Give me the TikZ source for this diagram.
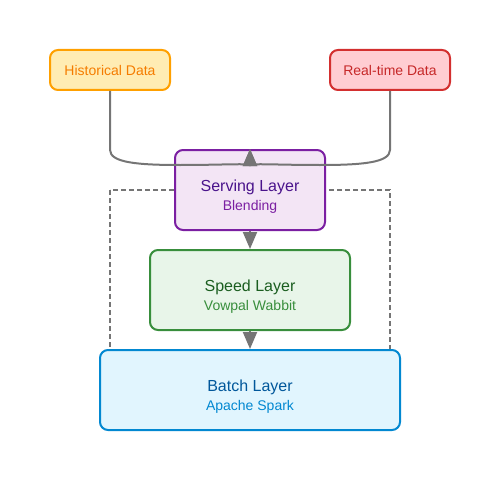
\documentclass[tikz,border=0pt]{standalone}
\usepackage{fontspec}
\setmainfont{Liberation Sans}
\usepackage{tikz}
\usetikzlibrary{arrows.meta,positioning}
\pgfdeclarelayer{background}
\pgfsetlayers{background,main}

\definecolor{histfill}{HTML}{FFECB3}
\definecolor{histdraw}{HTML}{FFA000}
\definecolor{histtext}{HTML}{F57C00}
\definecolor{realfill}{HTML}{FFCDD2}
\definecolor{realdraw}{HTML}{D32F2F}
\definecolor{realtext}{HTML}{C62828}
\definecolor{servefill}{HTML}{F3E5F5}
\definecolor{servedraw}{HTML}{7B1FA2}
\definecolor{servetitle}{HTML}{4A148C}
\definecolor{speedfill}{HTML}{E8F5E9}
\definecolor{speeddraw}{HTML}{388E3C}
\definecolor{speedtitle}{HTML}{1B5E20}
\definecolor{batchfill}{HTML}{E1F5FE}
\definecolor{batchdraw}{HTML}{0288D1}
\definecolor{batchtitle}{HTML}{01579B}
\definecolor{flowgray}{HTML}{757575}

\begin{document}
\begin{tikzpicture}[
            x=1pt, y=-1pt,
            every node/.style={on grid},
            box/.style={draw,rounded corners=8pt,line width=2pt,inner sep=0pt},
            source/.style={box,minimum width=120pt,minimum height=40pt,font=\fontsize{14}{16}\selectfont},
            layer/.style={box,minimum height=80pt},
            title/.style={anchor=base,font=\fontsize{16}{19}\selectfont},
            sub/.style={anchor=base,font=\fontsize{14}{17}\selectfont},
            flow/.style={draw=flowgray,line width=2pt,-{Triangle[length=17pt,width=14pt]}},
            frame/.style={draw=flowgray,line width=2pt,dash pattern=on 5pt off 3pt}
        ]
        \useasboundingbox (0,0) rectangle (500,500);

        % Draw layers %
        \node[layer,fill=servefill,draw=servedraw,minimum width=150pt] (serve) at (250,190) {};
        \node[layer,fill=speedfill,draw=speeddraw,minimum width=200pt,below=100pt of serve] (speed) {};
        \node[layer,fill=batchfill,draw=batchdraw,minimum width=300pt,below=100pt of speed] (batch) {};

        % Draw layer texts %
        \node[title,text=servetitle] (serveT) at ([yshift=-1pt]serve.center) {Serving Layer};
        \node[sub,text=servedraw] (serveS) at ([yshift=-20pt]serve.center) {Blending};
        \node[title,text=speedtitle] (speedT) at ([yshift=-1pt]speed.center) {Speed Layer};
        \node[sub,text=speeddraw] (speedS) at ([yshift=-20pt]speed.center) {Vowpal Wabbit};
        \node[title,text=batchtitle] (batchT) at ([yshift=-1pt]batch.center) {Batch Layer};
        \node[sub,text=batchdraw] (batchS) at ([yshift=-20pt]batch.center) {Apache Spark};

        % Draw sources %
        \node[source,fill=histfill,draw=histdraw,text=histtext,above left=120pt and 140pt of serve] (hist) {Historical Data};
        \node[source,fill=realfill,draw=realdraw,text=realtext,above right=120pt and 140pt of serve] (real) {Real-time Data};

        % Draw frame %
        \begin{pgfonlayer}{background}
            \draw[frame] (110,190) rectangle (390,350);
        \end{pgfonlayer}

        % Draw arrows %
        \draw[flow] (hist.south) -- (110,150) .. controls (110,163) and (140,165) .. (180,165)
            .. controls (225,165) and (250,163) .. (serve.north);
        \draw[flow] (real.south) -- (390,150) .. controls (390,163) and (360,165) .. (320,165)
            .. controls (275,165) and (250,163) .. (serve.north);
        \draw[flow] (serve) -- (speed);
        \draw[flow] (speed) -- (batch);
\end{tikzpicture}
\end{document}
